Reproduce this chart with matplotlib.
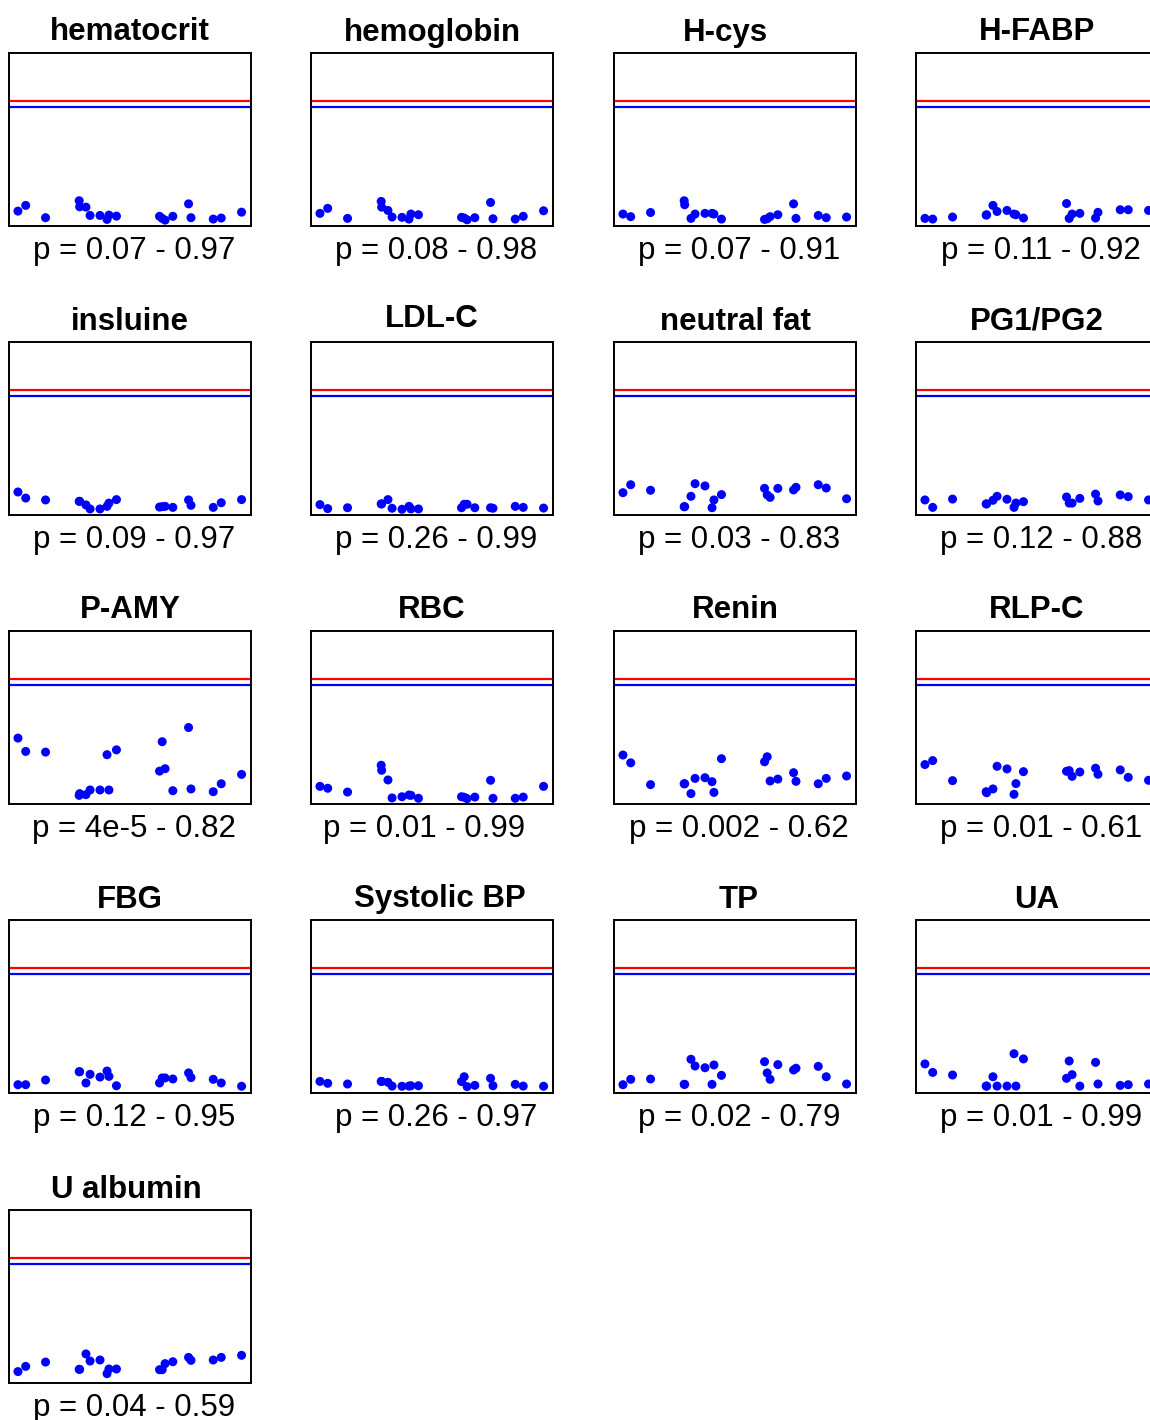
import numpy as np
import matplotlib
matplotlib.use("Agg")
import matplotlib.pyplot as plt

plt.rcParams['font.family'] = ['Liberation Sans', 'DejaVu Sans']

# shared sample positions along x (percent of panel width)
sample_pos = [3.7, 6.9, 15.1, 29.0, 29.2, 31.8, 33.5, 37.6, 40.5, 41.3,
              44.4, 62.2, 63.3, 64.5, 67.7, 74.2, 75.2, 84.4, 87.7, 96.1]

# y values per marker (percent of panel height)
hematocrit = [8.6, 11.9, 4.8, 14.6, 11.1, 10.9, 6.1, 6.1, 3.8, 6.3,
              5.7, 5.6, 4.4, 3.4, 5.6, 12.8, 4.8, 4.0, 4.6, 8.0]
hemoglobin = [7.3, 10.2, 4.4, 14.2, 10.9, 9.0, 5.2, 5.0, 4.0, 6.9,
              6.5, 5.0, 4.6, 3.6, 4.8, 13.6, 4.2, 4.0, 5.6, 8.8]
h_cys = [6.9, 5.4, 7.8, 14.6, 12.3, 4.4, 6.9, 7.3, 7.3, 6.9,
         4.0, 3.8, 4.2, 5.4, 6.5, 12.8, 4.4, 6.1, 4.8, 5.2]
h_fabp = [4.4, 4.0, 5.2, 6.3, 6.5, 11.9, 8.4, 9.0, 6.9, 6.5,
          4.6, 13.0, 4.4, 6.9, 7.3, 4.6, 7.9, 9.4, 9.4, 9.0]
insluine = [13.3, 9.8, 8.7, 7.9, 7.9, 5.8, 3.5, 3.5, 5.0, 6.9,
            8.9, 4.6, 4.8, 5.0, 4.4, 8.7, 5.6, 4.4, 7.1, 8.9]
ldl_c = [6.0, 3.7, 4.2, 6.4, 6.4, 8.9, 3.9, 3.3, 5.0, 3.5,
         3.5, 4.2, 6.2, 6.2, 4.2, 4.2, 3.9, 5.0, 4.4, 4.0]
neutral_fat = [12.9, 17.5, 14.3, 4.8, 4.8, 10.8, 18.1, 16.8, 4.2, 8.7,
               11.8, 15.4, 11.6, 10.2, 15.4, 14.5, 16.0, 17.5, 15.6, 9.4]
pg1_pg2 = [8.7, 4.4, 9.2, 6.4, 6.4, 8.5, 10.8, 9.1, 4.4, 6.9,
           7.7, 10.4, 6.9, 6.9, 9.6, 12.1, 8.1, 11.6, 10.6, 8.7]
p_amy = [38.1, 30.4, 30.0, 5.0, 6.0, 5.4, 8.1, 8.1, 28.5, 8.1,
         31.3, 19.0, 36.0, 20.4, 7.7, 44.2, 8.7, 7.1, 11.7, 17.1]
rbc = [10.2, 9.1, 6.9, 22.4, 19.5, 13.9, 3.5, 4.2, 5.2, 5.0,
       3.3, 4.2, 3.9, 3.1, 4.0, 13.7, 3.3, 3.3, 4.0, 10.2]
renin = [28.3, 23.8, 11.2, 11.7, 11.7, 6.0, 14.8, 15.2, 12.9, 6.7,
         26.2, 24.4, 27.3, 13.3, 14.4, 18.1, 13.1, 11.7, 14.8, 16.2]
rlp_c = [22.8, 25.1, 13.5, 7.1, 6.5, 8.7, 21.8, 20.3, 5.6, 11.8,
         18.7, 18.9, 19.3, 16.0, 18.5, 20.7, 17.2, 19.7, 15.4, 13.7]
fbg = [4.8, 4.8, 7.5, 12.3, 12.3, 5.8, 10.8, 9.2, 12.7, 9.6,
       4.2, 5.8, 8.7, 8.7, 8.1, 11.6, 8.9, 7.9, 5.8, 3.9]
systolic_bp = [6.7, 5.6, 5.2, 6.7, 6.7, 6.2, 4.0, 3.9, 4.0, 4.2,
               4.2, 6.6, 9.4, 3.7, 4.4, 8.5, 4.2, 5.0, 4.0, 3.9]
tp = [4.8, 7.9, 8.1, 5.0, 5.0, 19.5, 15.6, 14.6, 5.0, 16.2,
      10.2, 18.1, 11.6, 7.9, 16.4, 13.3, 14.3, 15.4, 9.4, 5.2]
ua = [16.8, 11.9, 10.4, 4.0, 4.0, 9.4, 4.0, 4.0, 22.7, 4.0,
      19.7, 8.5, 18.5, 10.6, 4.0, 17.7, 5.2, 4.4, 4.8, 5.2]
u_albumin = [6.6, 9.6, 12.1, 7.9, 7.9, 16.8, 12.7, 13.3, 5.4, 8.1,
             8.1, 7.7, 7.7, 11.2, 12.3, 14.8, 13.1, 13.3, 14.8, 16.0]

titles = ['hematocrit', 'hemoglobin', 'H-cys', 'H-FABP',
          'insluine', 'LDL-C', 'neutral fat', 'PG1/PG2',
          'P-AMY', 'RBC', 'Renin', 'RLP-C',
          'FBG', 'Systolic BP', 'TP', 'UA',
          'U albumin']
p_labels = ['p = 0.07 - 0.97', 'p = 0.08 - 0.98', 'p = 0.07 - 0.91', 'p = 0.11 - 0.92',
            'p = 0.09 - 0.97', 'p = 0.26 - 0.99', 'p = 0.03 - 0.83', 'p = 0.12 - 0.88',
            'p = 4e-5 - 0.82', 'p = 0.01 - 0.99', 'p = 0.002 - 0.62', 'p = 0.01 - 0.61',
            'p = 0.12 - 0.95', 'p = 0.26 - 0.97', 'p = 0.02 - 0.79', 'p = 0.01 - 0.99',
            'p = 0.04 - 0.59']
series = [hematocrit, hemoglobin, h_cys, h_fabp,
          insluine, ldl_c, neutral_fat, pg1_pg2,
          p_amy, rbc, renin, rlp_c,
          fbg, systolic_bp, tp, ua,
          u_albumin]

red_level = 72.3
blue_level = 68.6

# small nudges (px) for a few titles
title_dx = {'H-cys': -10, 'Systolic BP': 8, 'TP': 4, 'U albumin': -4}
title_dy = {'LDL-C': 3}

W, H = 1150, 1420
fig = plt.figure(figsize=(W / 100, H / 100), dpi=100)

col_left = [9, 311, 614, 916]
row_top = [53, 342, 631, 920, 1210]
box_w, box_h = 242, 173

for i, name in enumerate(titles):
    r, c = divmod(i, 4)
    left = col_left[c] / W
    bottom = 1 - (row_top[r] + box_h) / H
    ax = fig.add_axes([left, bottom, box_w / W, box_h / H])
    ax.set_xlim(0, 100)
    ax.set_ylim(0, 100)
    ax.axhline(red_level, color='#ff0000', lw=1.6)
    ax.axhline(blue_level, color='#0000ff', lw=1.6)
    ax.scatter(sample_pos, series[i], s=42, color='#0000ff', edgecolors='none',
               zorder=3, clip_on=False)
    ax.set_xticks([])
    ax.set_yticks([])
    for sp in ax.spines.values():
        sp.set_linewidth(1.4)
        sp.set_color('black')

    dx = title_dx.get(name, 0) * 0.72
    dy = title_dy.get(name, 0) * 0.72
    ax.annotate(name, xy=(0.5, 1), xycoords='axes fraction',
                xytext=(dx, 9 + dy), textcoords='offset points',
                ha='center', va='baseline', fontsize=22.5, fontweight='bold')

    lx = 4
    if i == 9:
        lx = -8
    ax.annotate(p_labels[i], xy=(0.5, 0), xycoords='axes fraction',
                xytext=(lx * 0.72, -24), textcoords='offset points',
                ha='center', va='baseline', fontsize=22.5)

fig.savefig('out.png', dpi=100)
